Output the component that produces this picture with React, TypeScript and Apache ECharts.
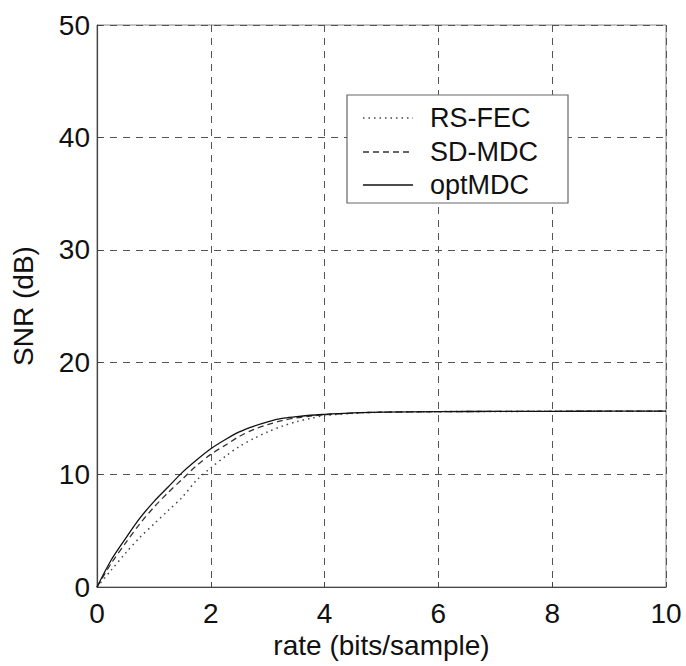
import React, { useEffect, useRef } from "react";
import * as echarts from "echarts";

const rates = [0, 0.25, 0.5, 0.75, 1, 1.25, 1.5, 1.75, 2, 2.25, 2.5, 2.75, 3, 3.25, 3.5, 3.75, 4, 4.5, 5, 6, 7, 8, 9, 10];
const rsFec = [0, 1.5, 3.0, 4.4, 5.6, 6.8, 8.0, 9.5, 10.6, 11.6, 12.5, 13.2, 13.8, 14.3, 14.7, 15.0, 15.25, 15.45, 15.55, 15.6, 15.62, 15.63, 15.64, 15.64];
const sdMdc = [0, 2.1, 3.9, 5.6, 7.1, 8.4, 9.6, 10.8, 11.8, 12.6, 13.4, 14.0, 14.45, 14.8, 15.05, 15.2, 15.32, 15.48, 15.55, 15.6, 15.62, 15.63, 15.64, 15.64];
const optMdc = [0, 2.4, 4.3, 6.1, 7.6, 8.9, 10.2, 11.3, 12.3, 13.1, 13.8, 14.3, 14.7, 15.0, 15.15, 15.28, 15.36, 15.5, 15.56, 15.6, 15.62, 15.63, 15.64, 15.64];

const seriesNames = ["RS-FEC", "SD-MDC", "optMDC"];
const xTicks = { min: 0, max: 10, interval: 2 };
const yTicks = { min: 0, max: 50, interval: 10 };

const FONT = "Liberation Sans, Arial, Helvetica, sans-serif";

const lineStyles = [
  { color: "#444", width: 1.5, type: [1.5, 4] },
  { color: "#333", width: 1.3, type: [6, 4] },
  { color: "#111", width: 1.3, type: "solid" },
];

function pairs(vals: number[]) {
  return rates.map((r, i) => [r, vals[i]]);
}

export default function App() {
  const ref = useRef<HTMLDivElement>(null);
  useEffect(() => {
    if (!ref.current) return;
    const chart = echarts.init(ref.current, undefined, { renderer: "svg" });
    const axisCommon = {
      axisLine: { show: true, lineStyle: { color: "#444", width: 1.2 } },
      axisTick: { show: true, inside: true, length: 5, lineStyle: { color: "#444" } },
      splitLine: { show: true, lineStyle: { color: "#555", type: [7, 6], width: 1 } },
      axisLabel: { fontSize: 28, color: "#111", fontFamily: FONT },
      nameTextStyle: { fontSize: 28, color: "#111", fontFamily: FONT },
    };
    const legendRows = [118, 152, 185];
    const legendGraphics: any[] = [
      {
        type: "rect",
        shape: { x: 347, y: 95, width: 221, height: 108 },
        style: { fill: "#fff", stroke: "#666", lineWidth: 1.2 },
        z: 100,
      },
    ];
    seriesNames.forEach((name, i) => {
      const ls: any = lineStyles[i];
      legendGraphics.push({
        type: "line",
        shape: { x1: 363, y1: legendRows[i], x2: 413, y2: legendRows[i] },
        style: {
          stroke: ls.color,
          lineWidth: ls.width,
          lineDash: Array.isArray(ls.type) ? ls.type : null,
        },
        z: 101,
      });
      legendGraphics.push({
        type: "text",
        x: 430,
        y: legendRows[i],
        style: {
          text: name,
          fontSize: 27,
          fontFamily: FONT,
          fill: "#111",
          textAlign: "left",
          textVerticalAlign: "middle",
        },
        z: 101,
      });
    });
    chart.setOption({
      animation: false,
      backgroundColor: "#fff",
      textStyle: { fontFamily: FONT },
      grid: { left: 97, right: 20, top: 25, bottom: 79, show: true, borderColor: "#888", borderWidth: 1 },
      xAxis: {
        type: "value",
        ...xTicks,
        ...axisCommon,
        axisLabel: { ...axisCommon.axisLabel, margin: 12 },
        name: "rate (bits/sample)",
        nameLocation: "middle",
        nameGap: 40,
      },
      yAxis: {
        type: "value",
        ...yTicks,
        ...axisCommon,
        axisLabel: { ...axisCommon.axisLabel, margin: 7 },
        name: "SNR (dB)",
        nameLocation: "middle",
        nameGap: 60,
      },
      graphic: legendGraphics,
      series: [rsFec, sdMdc, optMdc].map((vals, i) => ({
        name: seriesNames[i],
        type: "line",
        data: pairs(vals),
        smooth: 0.3,
        showSymbol: false,
        symbol: "none",
        lineStyle: lineStyles[i],
        itemStyle: { color: lineStyles[i].color },
      })),
    });
    return () => chart.dispose();
  }, []);
  return (
    <div
      ref={ref}
      style={{ position: "absolute", left: 0, top: 0, width: 686, height: 666, background: "#fff" }}
    />
  );
}
